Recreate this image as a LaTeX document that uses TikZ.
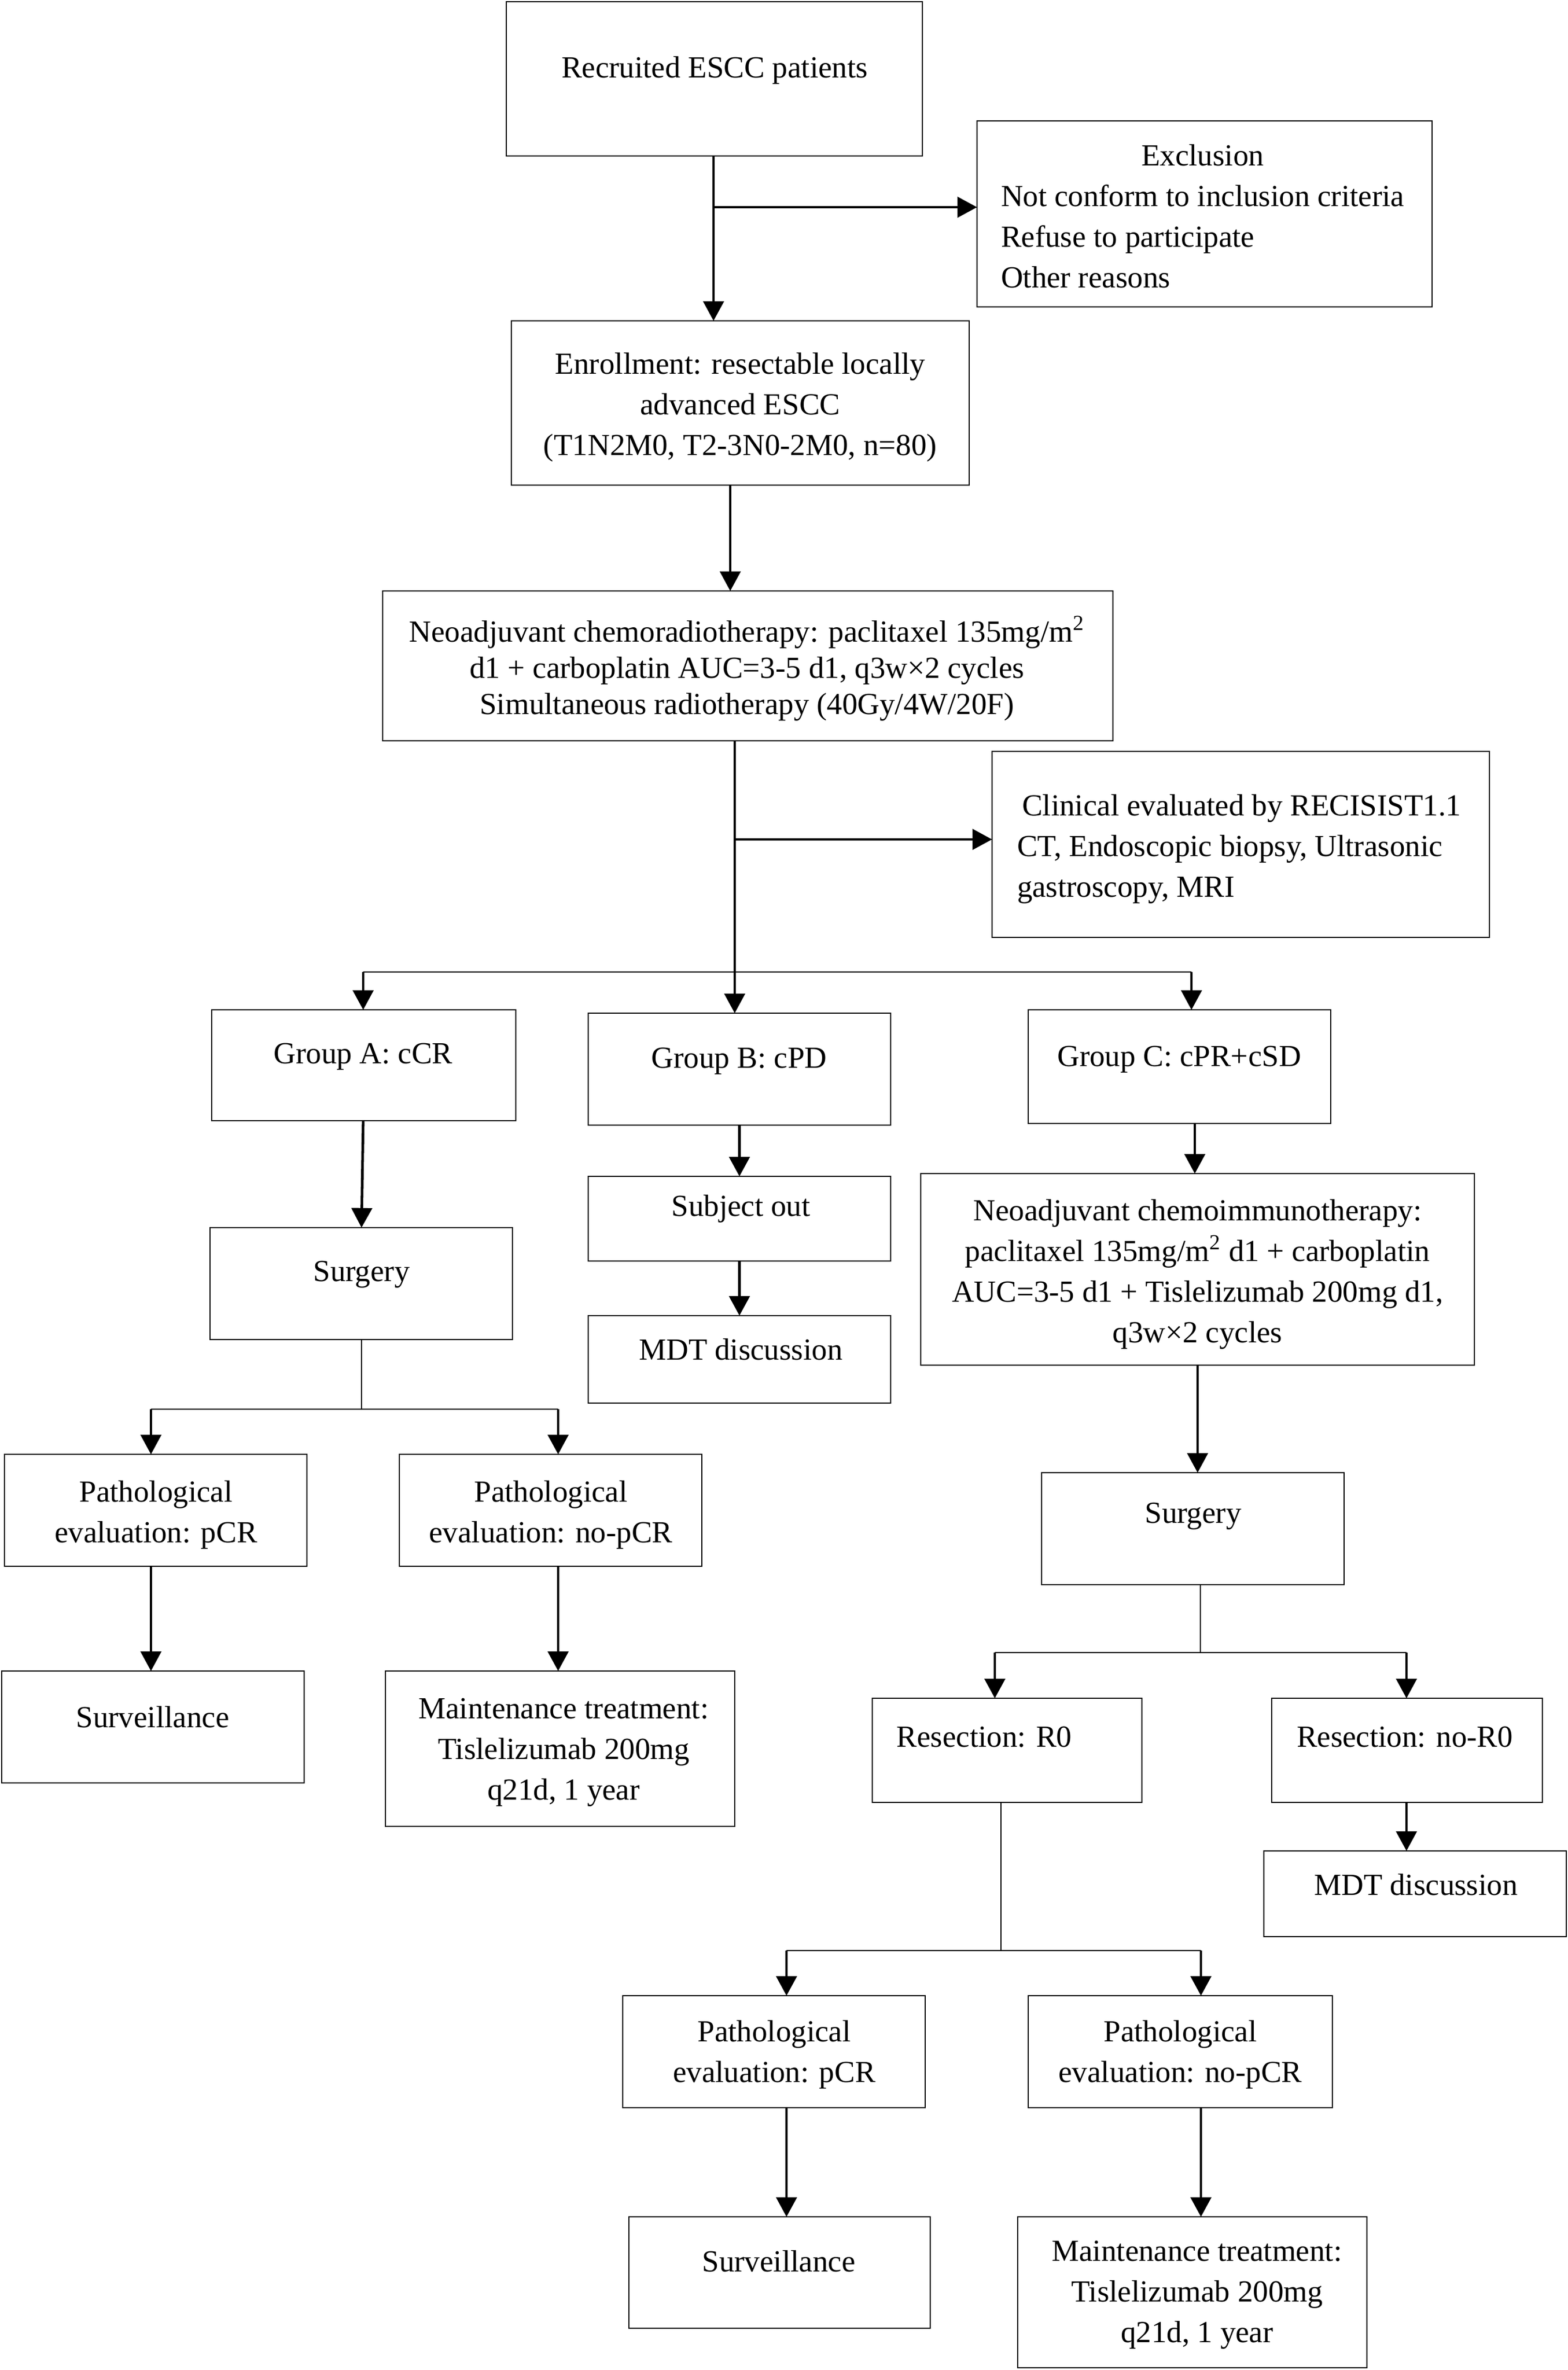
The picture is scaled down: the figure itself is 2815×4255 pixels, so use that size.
\documentclass[tikz,border=0pt]{standalone}
\usepackage{fontspec}
\setmainfont{Liberation Serif}
\usetikzlibrary{arrows.meta}
\newcommand{\bx}[5]{\node[box, minimum width={(#4-#2)*0.25pt}, minimum height={(#5-#3)*0.25pt}] (#1) at ({(#2+#4)/2},{(#3+#5)/2}) {};}
\newcommand{\tx}[4]{\node[txt] (#1) at (#2,#3) {\begin{tabular}[t]{@{}c@{}}#4\end{tabular}};}
\begin{document}
\begin{tikzpicture}[x=0.25pt,y=-0.25pt,
  box/.style={draw, line width=0.7pt, inner sep=0pt, outer sep=0pt},
  txt/.style={inner sep=0pt, outer sep=0pt, anchor=base, font=\fontsize{13.75}{18.3}\selectfont},
  txtb/.style={txt, font=\fontsize{13.75}{16.3}\selectfont},
  arr/.style={line width=1.2pt, -{Triangle[length=8.8pt,width=9.2pt]}},
  ln/.style={line width=0.7pt},
  lnt/.style={line width=0.7pt}]
\useasboundingbox (0,0) rectangle (2815,4255);
% boxes
\bx{rec}{909}{3}{1656}{280}
\bx{exc}{1754}{217}{2571}{551}
\bx{enr}{918}{576}{1740}{871}
\bx{neo}{687}{1061}{1998}{1330}
\bx{cli}{1781}{1349}{2674}{1683}
\bx{ga}{380}{1813}{926}{2012}
\bx{gb}{1056}{1819}{1599}{2020}
\bx{gc}{1846}{1813}{2389}{2017}
\bx{sa}{377}{2204}{920}{2405}
\bx{so}{1056}{2112}{1599}{2264}
\bx{mdb}{1056}{2362}{1599}{2519}
\bx{nci}{1653}{2107}{2647}{2451}
\bx{pa1}{8}{2611}{551}{2812}
\bx{pa2}{717}{2611}{1260}{2812}
\bx{sva}{3}{3000}{546}{3201}
\bx{mta}{692}{3000}{1319}{3279}
\bx{sc}{1870}{2644}{2413}{2845}
\bx{rz}{1566}{3049}{2050}{3236}
\bx{nrz}{2283}{3049}{2769}{3236}
\bx{mdc}{2269}{3323}{2812}{3477}
\bx{pc1}{1118}{3583}{1661}{3784}
\bx{pc2}{1846}{3583}{2392}{3784}
\bx{svc}{1129}{3980}{1670}{4180}
\bx{mtc}{1827}{3980}{2454}{4251}
% texts
\tx{rec-t}{1283}{139}{Recruited ESCC patients}
\node[txt, anchor=base west] (exc-t) at (1797,297) {\begin{tabular}[t]{@{}l@{}}\multicolumn{1}{@{}c@{}}{Exclusion}\\ Not conform to inclusion criteria\\ Refuse to participate\\ Other reasons\end{tabular}};
\tx{enr-t}{1329}{671}{Enrollment: resectable locally\\ advanced ESCC\\ (T1N2M0, T2-3N0-2M0, n=80)}
\node[txtb] (neo-t) at (1341,1152) {\begin{tabular}[t]{@{}c@{}}Neoadjuvant chemoradiotherapy: paclitaxel 135mg/m\textsuperscript{2}\\ d1 + carboplatin AUC=3-5 d1, q3w×2 cycles\\ Simultaneous radiotherapy (40Gy/4W/20F)\end{tabular}};
\node[txt, anchor=base west] (cli-t) at (1826,1464) {\begin{tabular}[t]{@{}l@{}}\,Clinical evaluated by RECISIST1.1\\ CT, Endoscopic biopsy, Ultrasonic\\ gastroscopy, MRI\end{tabular}};
\tx{ga-t}{652}{1909}{Group A: cCR}
\tx{gb-t}{1327}{1917}{Group B: cPD}
\tx{gc-t}{2117}{1914}{Group C: cPR+cSD}
\tx{sa-t}{649}{2300}{Surgery}
\tx{so-t}{1330}{2183}{Subject out}
\tx{mdb-t}{1330}{2441}{MDT discussion}
\tx{nci-t}{2150}{2191}{Neoadjuvant chemoimmunotherapy:\\ paclitaxel 135mg/m\textsuperscript{2} d1 + carboplatin\\ AUC=3-5 d1 + Tislelizumab 200mg d1,\\ q3w×2 cycles}
\tx{pa1-t}{280}{2696}{Pathological\\ evaluation: pCR}
\tx{pa2-t}{989}{2696}{Pathological\\ evaluation: no-pCR}
\tx{sva-t}{274}{3101}{Surveillance}
\tx{mta-t}{1012}{3085}{Maintenance treatment:\\ Tislelizumab 200mg\\ q21d, 1 year}
\tx{sc-t}{2142}{2734}{Surgery}
\tx{rz-t}{1767}{3136}{Resection: R0}
\tx{nrz-t}{2522}{3136}{Resection: no-R0}
\tx{mdc-t}{2542}{3402}{MDT discussion}
\tx{pc1-t}{1390}{3665}{Pathological\\ evaluation: pCR}
\tx{pc2-t}{2119}{3665}{Pathological\\ evaluation: no-pCR}
\tx{svc-t}{1398}{4078}{Surveillance}
\tx{mtc-t}{2149}{4059}{Maintenance treatment:\\ Tislelizumab 200mg\\ q21d, 1 year}
% column / row helper coordinates
\coordinate (c1) at (1281,0);
\coordinate (r1) at (0,372);
\coordinate (c2) at (1311,0);
\coordinate (c3) at (1319,0);
\coordinate (r2) at (0,1507);
\coordinate (r3) at (0,1745);
\coordinate (c4) at (652,0);
\coordinate (c5) at (2139,0);
\coordinate (c6) at (2145,0);
\coordinate (c7) at (649,0);
\coordinate (r4) at (0,2530);
\coordinate (c8) at (271,0);
\coordinate (c9) at (1002,0);
\coordinate (c10) at (2150,0);
\coordinate (c11) at (2155,0);
\coordinate (r5) at (0,2967);
\coordinate (c12) at (1786,0);
\coordinate (c13) at (2525,0);
\coordinate (c14) at (1797,0);
\coordinate (r6) at (0,3502);
\coordinate (c15) at (1412,0);
\coordinate (c16) at (2156,0);
% connectors
\draw[arr] (c1 |- rec.south) -- (c1 |- enr.north);
\draw[arr] (c1 |- r1) -- (exc.west |- r1);
\draw[arr] (c2 |- enr.south) -- (c2 |- neo.north);
\draw[arr] (c3 |- neo.south) -- (c3 |- gb.north);
\draw[arr] (c3 |- r2) -- (cli.west |- r2);
\draw[ln] (c4 |- r3) -- (c5 |- r3);
\draw[arr] (c4 |- r3) -- (c4 |- ga.north);
\draw[arr] (c5 |- r3) -- (c5 |- gc.north);
\draw[arr] (c4 |- ga.south) -- (c7 |- sa.north);
\draw[arr] (gb.south) -- (so.north);
\draw[arr] (so.south) -- (mdb.north);
\draw[arr] (c6 |- gc.south) -- (c6 |- nci.north);
\draw[lnt] (c7 |- sa.south) -- (c7 |- r4);
\draw[ln] (c8 |- r4) -- (c9 |- r4);
\draw[arr] (c8 |- r4) -- (c8 |- pa1.north);
\draw[arr] (c9 |- r4) -- (c9 |- pa2.north);
\draw[arr] (c8 |- pa1.south) -- (c8 |- sva.north);
\draw[arr] (c9 |- pa2.south) -- (c9 |- mta.north);
\draw[arr] (c10 |- nci.south) -- (c10 |- sc.north);
\draw[lnt] (c11 |- sc.south) -- (c11 |- r5);
\draw[ln] (c12 |- r5) -- (c13 |- r5);
\draw[arr] (c12 |- r5) -- (c12 |- rz.north);
\draw[arr] (c13 |- r5) -- (c13 |- nrz.north);
\draw[arr] (c13 |- nrz.south) -- (c13 |- mdc.north);
\draw[lnt] (c14 |- rz.south) -- (c14 |- r6);
\draw[ln] (c15 |- r6) -- (c16 |- r6);
\draw[arr] (c15 |- r6) -- (c15 |- pc1.north);
\draw[arr] (c16 |- r6) -- (c16 |- pc2.north);
\draw[arr] (c15 |- pc1.south) -- (c15 |- svc.north);
\draw[arr] (c16 |- pc2.south) -- (c16 |- mtc.north);
\end{tikzpicture}
\end{document}
